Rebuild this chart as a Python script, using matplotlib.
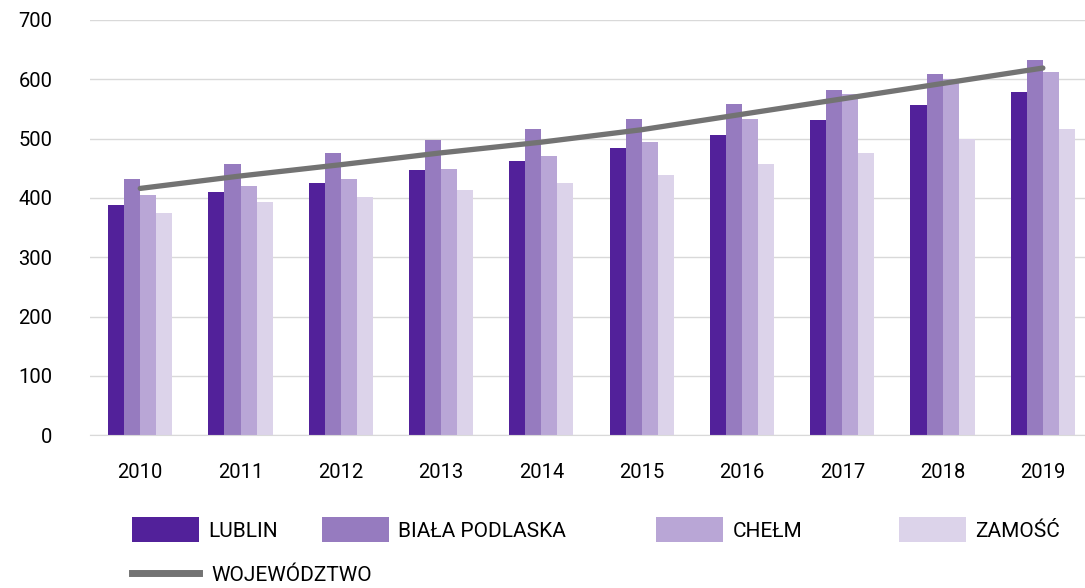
import matplotlib
matplotlib.use("Agg")
import matplotlib.pyplot as plt
import numpy as np
from matplotlib.patches import Patch
from matplotlib.lines import Line2D

plt.rcParams["font.family"] = ["Roboto", "DejaVu Sans"]

years = ["2010", "2011", "2012", "2013", "2014", "2015", "2016", "2017", "2018", "2019"]
lublin = [388, 410, 425, 447, 463, 484, 506, 531, 557, 578]
biala_podlaska = [432, 457, 476, 497, 516, 533, 559, 582, 609, 632]
chelm = [405, 420, 432, 448, 471, 495, 533, 575, 600, 612]
zamosc = [374, 393, 401, 413, 425, 438, 458, 476, 500, 516]
wojewodztwo = [416, 437, 456, 476, 494, 515, 541, 567, 593, 619]

series = [
    ("LUBLIN", lublin, "#52219a"),
    ("BIAŁA PODLASKA", biala_podlaska, "#967bbf"),
    ("CHEŁM", chelm, "#b9a6d6"),
    ("ZAMOŚĆ", zamosc, "#dcd3ea"),
]

fig = plt.figure(figsize=(10.85, 5.88), dpi=100)
ax = fig.add_axes([0.083, 0.260, 0.917, 0.706])

x = np.arange(len(years))
w = 0.16
for i, (name, vals, col) in enumerate(series):
    ax.bar(x + (i - 1.5) * w, vals, width=w, color=col, zorder=2)

ax.plot(x, wojewodztwo, color="#737373", lw=3.8, solid_capstyle="round", zorder=3)

ax.set_ylim(0, 700)
ax.set_xlim(-0.5, 9.42)
ax.set_yticks(range(0, 701, 100))
ax.set_xticks(x)
ax.set_xticklabels(years)
ax.grid(axis="y", color="#d9d9d9", lw=1, zorder=0)
for s in ["top", "right", "left"]:
    ax.spines[s].set_visible(False)
ax.spines["bottom"].set_color("#d9d9d9")
ax.tick_params(axis="both", length=0, labelsize=14.5, colors="#000000")
ax.tick_params(axis="x", pad=20)
ax.tick_params(axis="y", pad=27)

# legend entries placed one by one (uneven spacing in the original)
leg_x = [0.122, 0.297, 0.605, 0.829]
for (name, vals, col), lx in zip(series, leg_x):
    h = Patch(facecolor=col, edgecolor="none")
    fig.legend([h], [name], loc="center left", bbox_to_anchor=(lx, 0.099),
               frameon=False, fontsize=15, handlelength=3.2, handleheight=1.5,
               handletextpad=0.45, borderpad=0, borderaxespad=0)
line_h = Line2D([0], [0], color="#737373", lw=5)
fig.legend([line_h], ["WOJEWÓDZTWO"], loc="center left", bbox_to_anchor=(0.122, 0.022),
           frameon=False, fontsize=15, handlelength=3.2, handletextpad=0.6,
           borderpad=0, borderaxespad=0)

fig.savefig("out.png", dpi=100)
